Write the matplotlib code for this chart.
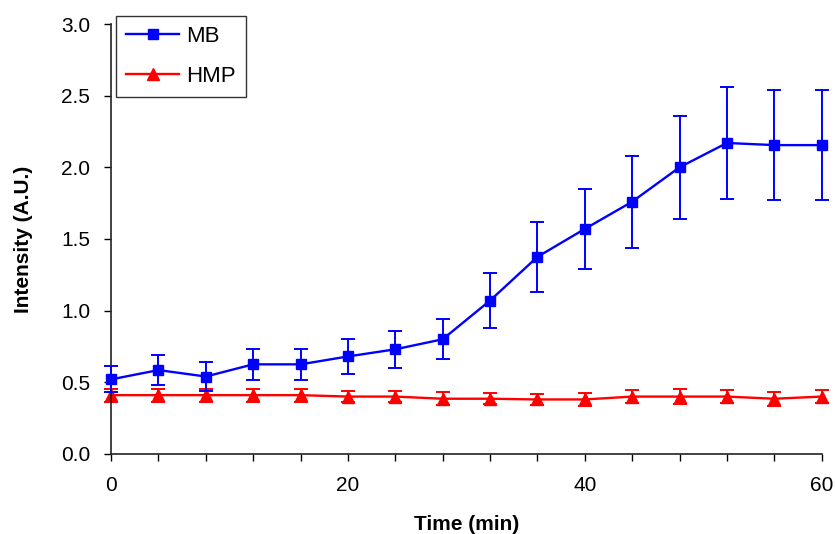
import matplotlib
matplotlib.use("Agg")
import matplotlib.pyplot as plt
import numpy as np

plt.rcParams['font.family'] = ['Liberation Sans', 'DejaVu Sans']

time_min = [0, 4, 8, 12, 16, 20, 24, 28, 32, 36, 40, 44, 48, 52, 56, 60]

mb_mean = [0.52, 0.585, 0.54, 0.625, 0.625, 0.68, 0.73, 0.80,
           1.07, 1.375, 1.57, 1.76, 2.00, 2.17, 2.155, 2.155]
mb_err = [0.09, 0.105, 0.10, 0.11, 0.11, 0.125, 0.13, 0.14,
          0.19, 0.245, 0.28, 0.32, 0.36, 0.39, 0.385, 0.385]

hmp_mean = [0.41, 0.41, 0.41, 0.41, 0.41, 0.40, 0.40, 0.385,
            0.385, 0.38, 0.38, 0.40, 0.40, 0.40, 0.385, 0.40]
hmp_err = [0.045, 0.045, 0.045, 0.045, 0.045, 0.04, 0.04, 0.045,
           0.04, 0.04, 0.045, 0.045, 0.05, 0.045, 0.05, 0.045]

fig = plt.figure(figsize=(8.35, 5.34), dpi=100)
ax = fig.add_axes([0.133, 0.150, 0.851, 0.805])

mb = ax.errorbar(time_min, mb_mean, yerr=mb_err, color='#0000FF', marker='s',
                 markersize=7, linewidth=1.7, capsize=5, capthick=1.4,
                 elinewidth=1.4, zorder=3)
hmp = ax.errorbar(time_min, hmp_mean, yerr=hmp_err, color='#FF0000', marker='^',
                  markersize=8, linewidth=1.7, capsize=5, capthick=1.4,
                  elinewidth=1.4, zorder=2)
# keep markers at the axis edges whole
for container in (mb, hmp):
    for artist in container.get_children():
        artist.set_clip_on(False)

ax.set_xlim(0, 60)
ax.set_ylim(0, 3.0)
ax.set_xticks(np.arange(0, 61, 4))
ax.set_xticklabels([str(t) if t % 20 == 0 else '' for t in range(0, 61, 4)])
ax.set_yticks(np.arange(0, 3.01, 0.5))
ax.set_yticklabels([f'{v:.1f}' for v in np.arange(0, 3.01, 0.5)])
ax.tick_params(direction='out', length=5, width=1, labelsize=15)
ax.tick_params(axis='x', pad=11)
ax.tick_params(axis='y', pad=10)

for side in ['top', 'right']:
    ax.spines[side].set_visible(False)
for side in ['left', 'bottom']:
    ax.spines[side].set_linewidth(1.2)
    ax.spines[side].set_color('#222222')

ax.set_xlabel('Time (min)', fontsize=15, fontweight='bold', labelpad=14)
ax.set_ylabel('Intensity (A.U.)', fontsize=15, fontweight='bold', labelpad=20)

leg = ax.legend(handles=[mb[0], hmp[0]], labels=['MB', 'HMP'],
                loc='upper left', bbox_to_anchor=(116 / 835, 1 - 16 / 534),
                bbox_transform=fig.transFigure, fontsize=16, frameon=True,
                fancybox=False, edgecolor='black', borderpad=0.45,
                handlelength=2.4, handletextpad=0.3, labelspacing=0.85,
                borderaxespad=0)
leg.get_frame().set_linewidth(1.0)

fig.savefig('out.png', dpi=100)
